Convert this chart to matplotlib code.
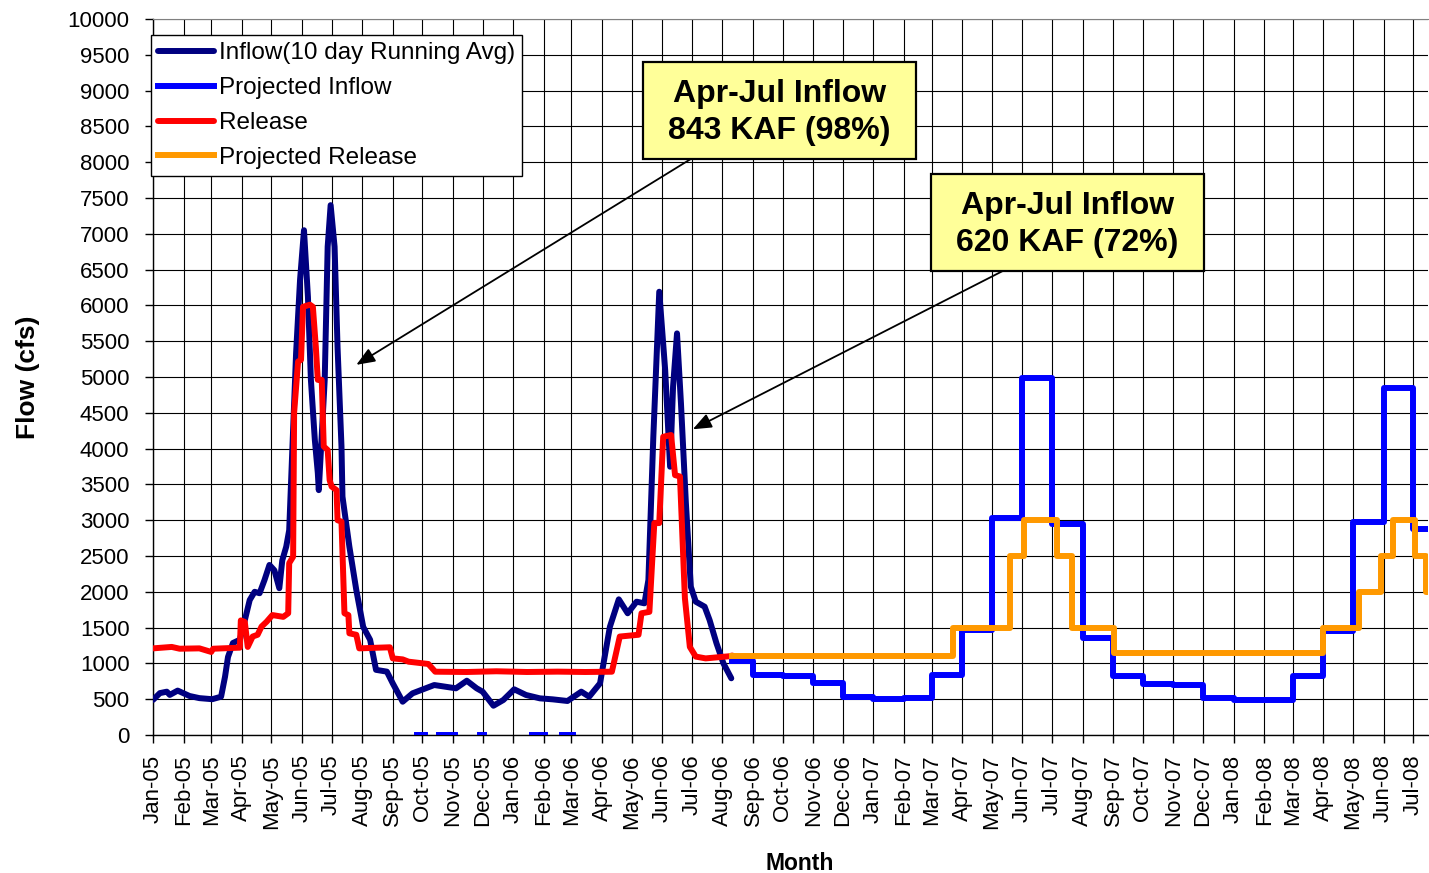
import numpy as np
import matplotlib
matplotlib.use("Agg")
import matplotlib.pyplot as plt
import matplotlib.dates as mdates
from matplotlib.patches import Rectangle

plt.rcParams['font.family'] = ['Liberation Sans', 'DejaVu Sans']

# ---------------- data ----------------
inflow_dates = ['2005-01-01', '2005-01-08', '2005-01-15', '2005-01-18', '2005-01-26', '2005-02-07',
                '2005-02-17', '2005-03-02', '2005-03-11', '2005-03-15', '2005-03-18', '2005-03-23',
                '2005-03-30', '2005-04-04', '2005-04-09', '2005-04-14', '2005-04-19', '2005-04-24',
                '2005-04-29', '2005-05-04', '2005-05-09', '2005-05-12', '2005-05-16', '2005-05-19',
                '2005-05-26', '2005-05-30', '2005-06-03', '2005-06-07', '2005-06-10', '2005-06-14',
                '2005-06-17', '2005-06-18', '2005-06-24', '2005-06-27', '2005-06-30', '2005-07-04',
                '2005-07-07', '2005-07-11', '2005-07-12', '2005-07-19', '2005-07-26', '2005-08-02',
                '2005-08-09', '2005-08-15', '2005-08-26', '2005-09-01', '2005-09-11', '2005-09-21',
                '2005-10-02', '2005-10-13', '2005-11-04', '2005-11-15', '2005-11-25', '2005-12-01',
                '2005-12-12', '2005-12-22', '2006-01-02', '2006-01-14', '2006-01-28', '2006-02-10',
                '2006-02-25', '2006-03-11', '2006-03-19', '2006-03-30', '2006-04-09', '2006-04-18',
                '2006-04-27', '2006-05-06', '2006-05-14', '2006-05-18', '2006-05-23', '2006-05-29',
                '2006-06-04', '2006-06-09', '2006-06-12', '2006-06-16', '2006-06-20', '2006-06-25',
                '2006-06-30', '2006-07-05', '2006-07-14', '2006-07-19', '2006-07-26', '2006-08-02',
                '2006-08-10']
inflow_vals = [490, 585, 605, 560, 620, 545,
               515, 500, 535, 815, 1090, 1285,
               1330, 1600, 1885, 2000, 1980, 2165,
               2375, 2300, 2050, 2440, 2630, 2860,
               5335, 6355, 7050, 6120, 4960, 4120,
               3660, 3420, 4960, 6820, 7400, 6820,
               5420, 4030, 3330, 2630, 2025, 1510,
               1330, 910, 885, 720, 465, 582,
               640, 698, 652, 758, 652, 605,
               409, 489, 638, 559, 512, 498,
               475, 605, 535, 722, 1512, 1895,
               1700, 1862, 1839, 2165, 4166, 6191,
               5098, 3747, 4864, 5609, 4633, 3236,
               2071, 1862, 1792, 1606, 1281, 1001,
               792]

release_dates = ['2005-01-01', '2005-01-20', '2005-01-28', '2005-02-17', '2005-03-01', '2005-03-03',
                 '2005-03-30', '2005-03-31', '2005-04-04', '2005-04-07', '2005-04-12', '2005-04-17',
                 '2005-04-21', '2005-04-26', '2005-05-02', '2005-05-13', '2005-05-18', '2005-05-19',
                 '2005-05-23', '2005-05-24', '2005-05-28', '2005-05-31', '2005-06-02', '2005-06-09',
                 '2005-06-12', '2005-06-15', '2005-06-17', '2005-06-21', '2005-06-23', '2005-06-27',
                 '2005-06-29', '2005-07-01', '2005-07-06', '2005-07-07', '2005-07-11', '2005-07-14',
                 '2005-07-18', '2005-07-19', '2005-07-26', '2005-07-29', '2005-08-29', '2005-09-01',
                 '2005-09-11', '2005-09-17', '2005-10-07', '2005-10-14', '2005-11-15', '2005-12-15',
                 '2006-01-15', '2006-02-15', '2006-03-15', '2006-04-11', '2006-04-19', '2006-05-08',
                 '2006-05-11', '2006-05-19', '2006-05-24', '2006-05-29', '2006-06-02', '2006-06-10',
                 '2006-06-14', '2006-06-19', '2006-06-24', '2006-06-29', '2006-07-05', '2006-07-15',
                 '2006-08-08', '2006-08-11']
release_vals = [1210, 1230, 1205, 1210, 1160, 1205,
                1220, 1600, 1580, 1230, 1375, 1400,
                1515, 1580, 1675, 1650, 1700, 2400,
                2490, 4500, 5215, 5240, 5980, 6010,
                5980, 5420, 4960, 4960, 4030, 3980,
                3560, 3470, 3420, 3000, 2980, 1700,
                1675, 1420, 1400, 1210, 1225, 1070,
                1056, 1024, 992, 884, 880, 890,
                880, 885, 880, 884, 1375, 1400,
                1700, 1720, 2960, 2960, 4165, 4190,
                3630, 3610, 1910, 1230, 1095, 1070,
                1100, 1110]

proj_inflow_dates = ['2006-08-11', '2006-09-01', '2006-10-01', '2006-11-01', '2006-12-01',
                     '2007-01-01', '2007-02-01', '2007-03-01', '2007-04-01', '2007-05-01',
                     '2007-06-01', '2007-07-01', '2007-08-01', '2007-09-01', '2007-10-01',
                     '2007-11-01', '2007-12-01', '2008-01-01', '2008-02-01', '2008-03-01',
                     '2008-04-01', '2008-05-01', '2008-06-01', '2008-07-01', '2008-07-16']
proj_inflow_vals = [1040, 840, 820, 720, 535,
                    500, 520, 840, 1470, 3030,
                    4980, 2950, 1350, 820, 710,
                    700, 510, 490, 490, 830,
                    1450, 2970, 4850, 2880, 2880]

proj_release_dates = ['2006-08-11', '2007-03-23', '2007-05-19', '2007-06-03', '2007-07-06',
                      '2007-07-21', '2007-09-02', '2008-04-01', '2008-05-07', '2008-05-29',
                      '2008-06-11', '2008-07-03', '2008-07-14', '2008-07-16']
proj_release_vals = [1100, 1500, 2500, 3000, 2500,
                     1500, 1150, 1500, 2000, 2500,
                     3000, 2500, 2000, 2000]

# short stretches of projected inflow recorded at zero
zero_starts = ['2005-09-26', '2005-10-18', '2005-11-28', '2006-01-20', '2006-02-19']
zero_ends = ['2005-10-04', '2005-11-03', '2005-12-02', '2006-02-02', '2006-03-03']

series_labels = ['Inflow(10 day Running Avg)', 'Projected Inflow', 'Release', 'Projected Release']
box_texts = ['Apr-Jul Inflow\n843 KAF (98%)', 'Apr-Jul Inflow\n620 KAF (72%)']

x_start, x_end = '2005-01-01', '2008-07-16'


def d(lst):
    return np.array(lst, dtype='datetime64[D]')


def dn(s):
    return mdates.date2num(np.datetime64(s))


# ---------------- figure ----------------
W, H = 1429, 873
fig = plt.figure(figsize=(W / 100, H / 100), dpi=100)
ax = fig.add_axes([153 / W, 1 - 735 / H, 1275 / W, 716 / H])

LW = 4.3
navy, blue, red, orange = '#000080', '#0000FF', '#FF0000', '#FF9900'

l1, = ax.plot(d(inflow_dates), inflow_vals, color=navy, lw=LW, solid_joinstyle='round',
              solid_capstyle='round', zorder=3)
l2, = ax.plot(d(proj_inflow_dates), proj_inflow_vals, color=blue, lw=LW, drawstyle='steps-post',
              zorder=3)
for s, e in zip(zero_starts, zero_ends):
    ax.plot(d([s, e]), [0, 0], color=blue, lw=LW, zorder=3)
l3, = ax.plot(d(release_dates), release_vals, color=red, lw=LW, solid_joinstyle='round',
              solid_capstyle='round', zorder=4)
l4, = ax.plot(d(proj_release_dates), proj_release_vals, color=orange, lw=LW,
              drawstyle='steps-post', zorder=4)

ax.set_xlim(np.datetime64(x_start), np.datetime64(x_end))
ax.set_ylim(0, 10000)
ax.set_yticks(np.arange(0, 10001, 500))
ax.xaxis.set_major_locator(mdates.MonthLocator())
ax.xaxis.set_major_formatter(mdates.DateFormatter('%b-%y'))
for lab in ax.get_xticklabels():
    lab.set_rotation(90)
ax.tick_params(axis='y', labelsize=16, length=6, width=1, pad=11, direction='out')
ax.tick_params(axis='x', labelsize=16, length=6, width=1, pad=8, direction='out')

ax.grid(True, color='black', lw=0.8)
ax.set_axisbelow(True)
ax.spines['right'].set_visible(False)
ax.spines['top'].set_color('#808080')
for sp in ['left', 'bottom']:
    ax.spines[sp].set_color('black')
    ax.spines[sp].set_linewidth(1.0)

ax.set_xlabel('Month', fontsize=16.5, fontweight='bold')
ax.xaxis.set_label_coords(0.507, -0.163)
ax.set_ylabel('Flow (cfs)', fontsize=19, fontweight='bold')
ax.yaxis.set_label_coords(-0.089, 0.499)

leg = ax.legend([l1, l2, l3, l4], series_labels, loc='upper left', bbox_to_anchor=(-0.0016, 0.9777),
                borderaxespad=0, fontsize=17.5, handlelength=2.3, handletextpad=0.2,
                borderpad=0.3, labelspacing=0.53, fancybox=False, framealpha=1,
                edgecolor='black')
leg.get_frame().set_linewidth(1.0)
leg.set_zorder(6)

# annotation boxes (axes fraction)
boxes = [((643 - 153) / 1275, (735 - 159) / 716), ((931 - 153) / 1275, (735 - 271) / 716)]
bw, bh = 273 / 1275, 97 / 716
for (bx, by), txt in zip(boxes, box_texts):
    ax.add_patch(Rectangle((bx, by), bw, bh, transform=ax.transAxes, facecolor='#FFFF99',
                           edgecolor='black', lw=1.6, zorder=7))
    ax.text(bx + bw / 2, by + bh / 2 - 0.003, txt, transform=ax.transAxes, ha='center',
            va='center', fontsize=23, fontweight='bold', linespacing=1.32, zorder=8)

arrows = [(('2005-07-26', 5170), ('2006-06-30', 8045)),
          (('2006-07-02', 4270), ('2007-05-12', 6480))]
for (hx, hy), (tx, ty) in arrows:
    ax.annotate('', xy=(dn(hx), hy), xytext=(dn(tx), ty),
                arrowprops=dict(arrowstyle='-|>,head_length=0.75,head_width=0.3', color='black',
                                lw=1.3, mutation_scale=15, shrinkA=0, shrinkB=0), zorder=6)

fig.savefig('out.png', dpi=100)
